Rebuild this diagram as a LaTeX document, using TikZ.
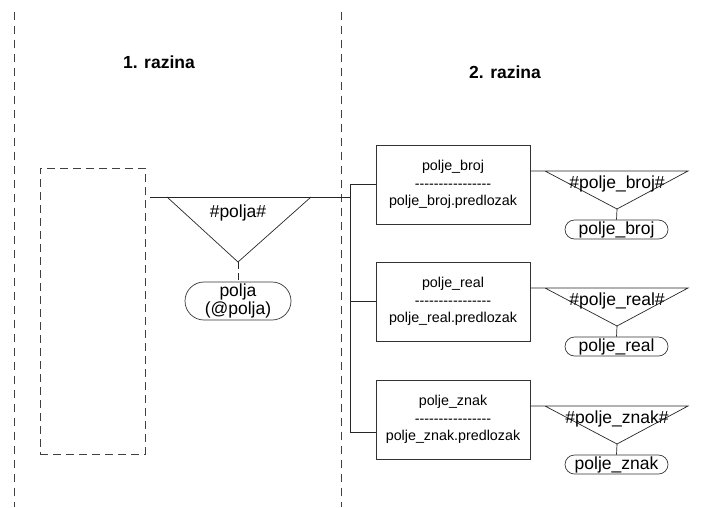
\documentclass[tikz,border=0pt]{standalone}
\usepackage{fontspec}
\setmainfont{Liberation Sans}
\newfontfamily\crtice{Liberation Sans}[Ligatures=TeXOff]
\tikzset{
  razina/.style = {font=\fontsize{17.5}{20}\selectfont\bfseries},
  granica/.style = {draw=black!75, dash pattern=on 8pt off 6pt},
  tablica/.style = {draw=black!80, minimum width=154, minimum height=79, align=center,
                    font=\fontsize{14.3}{17.5}\selectfont},
  oznaka/.style = {font=\fontsize{17.5}{20}\selectfont, inner sep=0},
  polje/.style = {draw=black!80, minimum width=103, minimum height=19, inner sep=0,
                  rounded corners=9.5, font=\fontsize{17.5}{20}\selectfont},
}
\begin{document}
\begin{tikzpicture}[x=1pt, y=-1pt, line width=0.7pt]
\useasboundingbox (0,0) rectangle (708,507);
% razine
\draw[granica] (14,12) -- (14,507);
\draw[granica] (341,12) -- (341,507);
\node[razina] (razina1) at (159,62) {1. razina};
\node[razina] (razina2) at (505,72) {2. razina};
% 1. razina
\node[draw=black!75, dash pattern=on 8pt off 5pt, minimum width=105, minimum height=286] (prazno) at (92.5,311) {};
\coordinate (ulaz) at (150,197);
\coordinate (vrh) at (238,262);
\draw[black!85] (167,197) -- (vrh) -- (311,197);
\node[oznaka] (oznaka) at (238,213) {\#polja\#};
\node[polje, minimum width=106, minimum height=38, rounded corners=19, align=center,
      font=\fontsize{17.5}{18}\selectfont] (polja) at (238,301) {polja\\(@polja)};
\draw[black!85, dash pattern=on 7pt off 4pt] (vrh) -- (polja.north);
% 2. razina
\foreach \ime/\y in {broj/184.5, real/301.5, znak/419.5} {
  \node[tablica] (tab-\ime) at (453,\y) {polje\_\ime\\{\crtice ----------------}\\polje\_\ime.predlozak};
  \coordinate (vrh-\ime) at (617,\y+24.5);
  \draw[black!85] (tab-\ime.east |- 0,\y-13.5) -- (688,\y-13.5) -- (vrh-\ime) -- (545,\y-13.5);
  \node[oznaka] (oznaka-\ime) at (617,\y-1) {\#polje\_\ime\#};
  \node[polje] (polje-\ime) at (616.5,\y+45) {polje\_\ime};
  \draw[black!85] (vrh-\ime) -- (polje-\ime.north);
}
% veze
\coordinate (grana) at (350,432);
\draw[black!85] (tab-broj.west) -| (grana) -- (grana -| tab-znak.west);
\draw[black!85] (tab-real.west) -- (tab-real.west -| grana);
\draw[black!85] (ulaz) -- (ulaz -| grana);
\end{tikzpicture}
\end{document}
